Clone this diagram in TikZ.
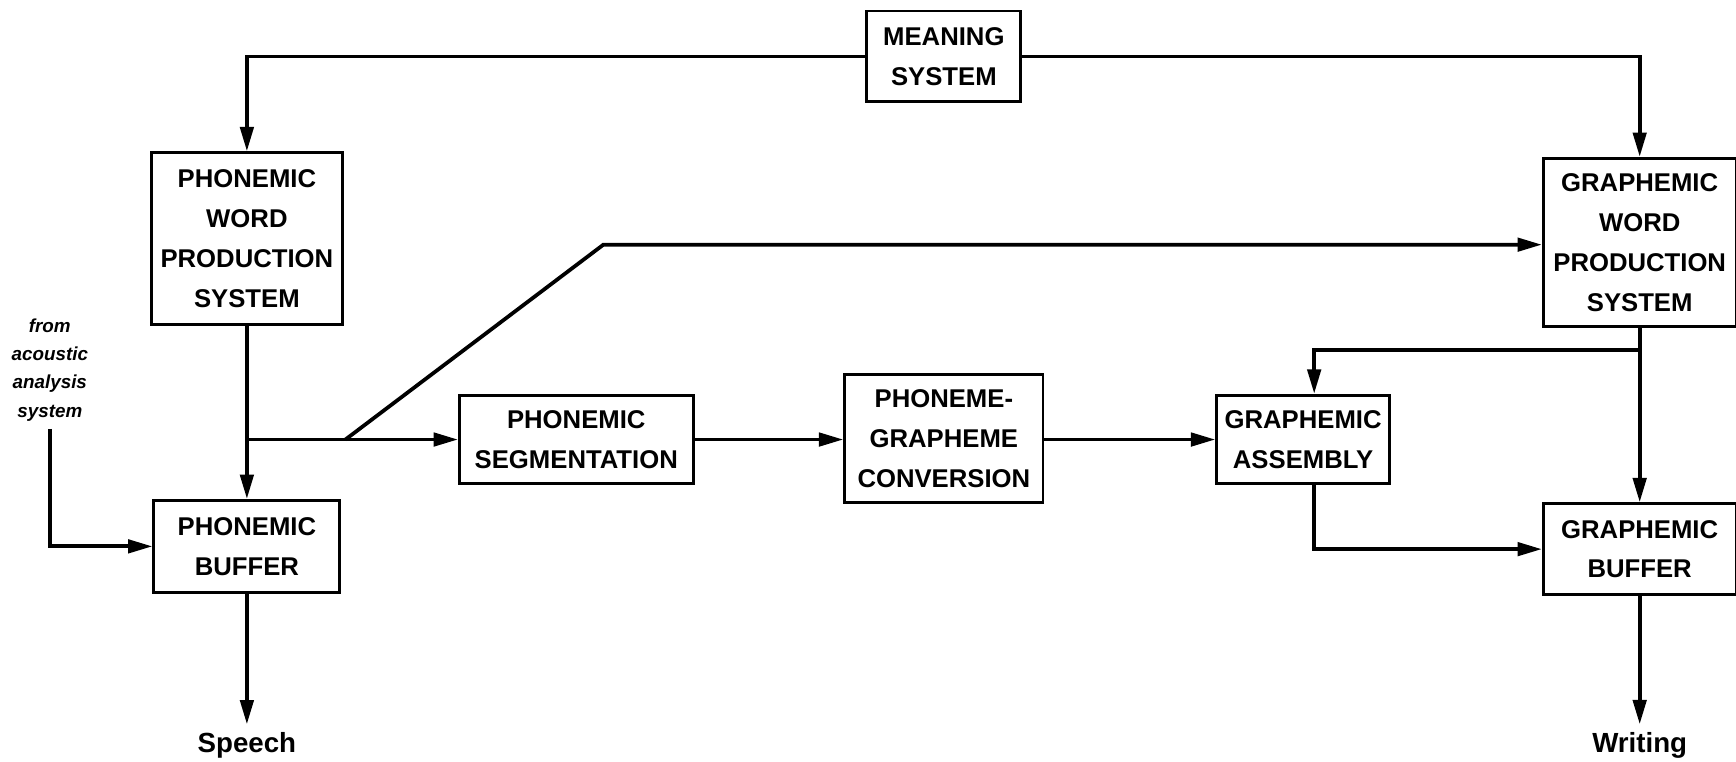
\documentclass[tikz,border=0pt]{standalone}
\usepackage{fontspec}
\setmainfont{Liberation Sans}
\usetikzlibrary{arrows.meta,calc}

\begin{document}
\begin{tikzpicture}[x=0.5pt,y=-0.5pt,
  box/.style={draw,line width=1.3pt,align=center,inner sep=0pt,font=\bfseries\fontsize{11.6}{18}\selectfont},
  arr/.style={line width=1.7pt,-{Triangle[length=11pt,width=6pt]}},
  wire/.style={line width=1.7pt}]
\useasboundingbox (0,0) rectangle (1568,688);

\node[box,minimum width=69.5pt,minimum height=41pt] (meaning) at (852.5,51) {MEANING\\SYSTEM};
\node[box,minimum width=86pt,minimum height=77.5pt] (pwps) at (223,215.5) {PHONEMIC\\WORD\\PRODUCTION\\SYSTEM};
\node[box,minimum width=87pt,minimum height=76pt] (gwps) at (1481,219) {GRAPHEMIC\\WORD\\PRODUCTION\\SYSTEM};
\node[box,minimum width=84pt,minimum height=41.5pt] (pb) at (223,493.5) {PHONEMIC\\BUFFER};
\node[box,minimum width=105.5pt,minimum height=40pt] (ps) at (520.5,397) {PHONEMIC\\SEGMENTATION};
\node[box,minimum width=89.5pt,minimum height=58pt] (pgc) at (852.5,396) {PHONEME-\\GRAPHEME\\CONVERSION};
\node[box,minimum width=78pt,minimum height=40pt] (ga) at (1177,397) {GRAPHEMIC\\ASSEMBLY};
\node[box,minimum width=87pt,minimum height=41pt] (gb) at (1481,496) {GRAPHEMIC\\BUFFER};
\node[font=\bfseries\fontsize{12.5}{15}\selectfont] (speech) at (223,673) {Speech};
\node[font=\bfseries\fontsize{12.5}{15}\selectfont] (writing) at (1481,673) {Writing};
\node[align=center,font=\bfseries\itshape\fontsize{8.5}{12.8}\selectfont] (acoustic) at (45,334) {from\\acoustic\\analysis\\system};

% meaning system to both word production systems
\draw[arr] (meaning.west) -| (pwps.north);
\draw[arr] (meaning.east) -| (gwps.north);

% phonemic side
\draw[arr] (pwps.south) -- (pb.north);
\coordinate (j1) at (pwps.south |- ps.west);
\coordinate (d0) at (312,397);
\coordinate (d1) at (545,221);
\draw[arr] (j1) -- (ps.west);
\draw[arr] (d0) -- (d1) -- (d1 -| gwps.west);
\draw[arr] (acoustic.south) |- (pb.west);
\draw[arr] (pb.south) -- (speech.north);

% conversion route
\draw[arr] (ps.east) -- (ps.east -| pgc.west);
\draw[arr] (ps.east -| pgc.east) -- (ps.east -| ga.west);

% graphemic side
\coordinate (br) at (gwps.south |- 0,316);
\draw[arr] (gwps.south) -- (gb.north);
\draw[arr] (br) -| ([xshift=5pt]ga.north);
\draw[arr] ([xshift=5pt]ga.south) |- (gb.west);
\draw[arr] (gb.south) -- (writing.north);

\end{tikzpicture}
\end{document}
